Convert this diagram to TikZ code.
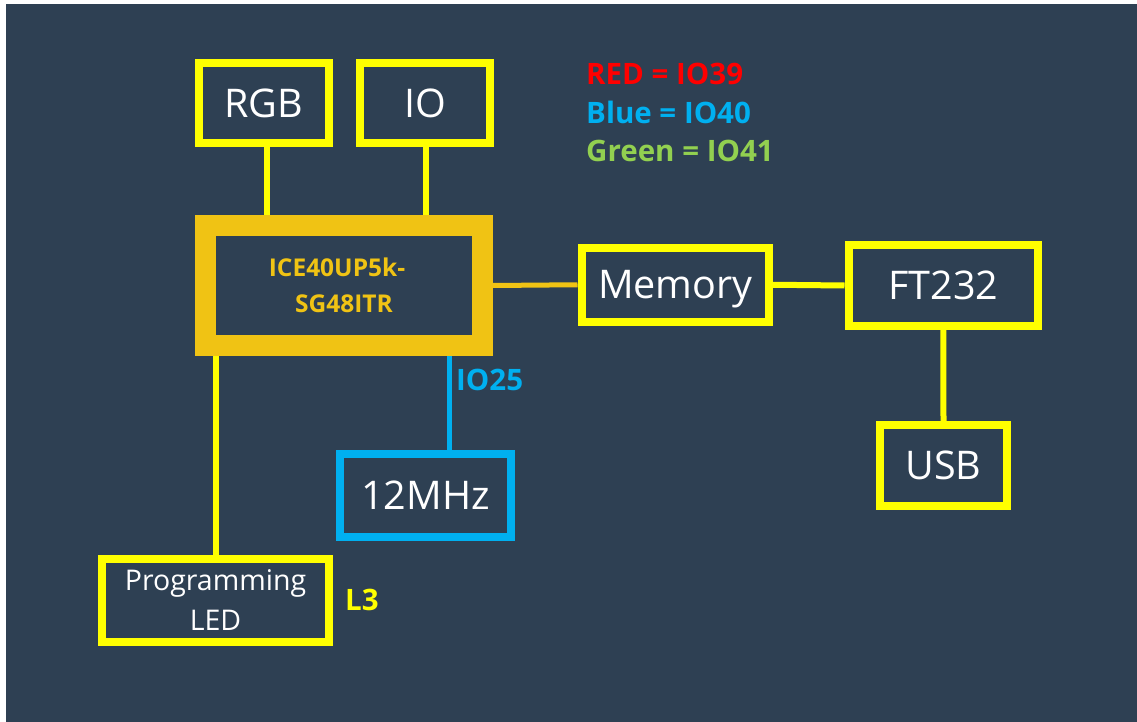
\documentclass[tikz,border=0pt]{standalone}
\usepackage{fontspec}
\setmainfont{Open Sans}
\definecolor{bg}{RGB}{46,64,83}
\definecolor{ylw}{RGB}{255,255,0}
\definecolor{chipgold}{RGB}{240,195,20}
\definecolor{cblue}{RGB}{0,176,240}
\definecolor{cred}{RGB}{255,0,0}
\definecolor{cgreen}{RGB}{146,208,80}
\tikzset{
  blk/.style={draw=ylw, line width=8pt, fill=bg, inner sep=0pt, text=white,
    font=\fontsize{39.5}{44}\selectfont, text height=28.2pt, text depth=0pt},
  wire/.style={draw=ylw, line width=6pt},
  bold label/.style={font=\fontsize{29.5}{32}\selectfont\bfseries, inner sep=0pt, anchor=west,
    text height=21pt, text depth=0pt}
}
\begin{document}
\begin{tikzpicture}[x=1pt,y=-1pt]
\useasboundingbox (0,0) rectangle (1137,722);
\fill[white] (0,0) rectangle (1137,722);
\fill[bg] (6,4) rectangle (1137,722);

% nodes
\node[blk, minimum width=130pt, minimum height=80pt] (rgb) at (263.5,103.5) {RGB};
\node[blk, minimum width=130pt, minimum height=80pt] (io) at (425,103.5) {IO};
\node[blk, draw=chipgold, line width=21pt, minimum width=277pt, minimum height=120pt,
      text=chipgold, font=\fontsize{24.5}{36}\selectfont\bfseries,
      text height=53.5pt, text depth=0pt] (chip) at (344,285.5)
      {\begin{tabular}[b]{@{}c@{}}\hspace*{-14pt}ICE40UP5k-\\SG48ITR\end{tabular}};
\node[blk, minimum width=187.5pt, minimum height=74.5pt] (mem) at (675.25,284.75) {Memory};
\node[blk, minimum width=189.5pt, minimum height=81pt] (ft) at (943.25,285.5) {FT232};
\node[blk, minimum width=127pt, minimum height=81pt] (usb) at (943.5,465.5) {USB};
\node[blk, draw=cblue, minimum width=171pt, minimum height=83pt] (osc) at (425.5,495.5) {12MHz};
\node[blk, minimum width=227pt, minimum height=82.5pt,
      font=\fontsize{28.5}{40}\selectfont, text height=59.5pt, text depth=0pt] (prog) at (215.5,600.25)
      {\begin{tabular}[b]{@{}c@{}}Programming\\LED\end{tabular}};

% connectors
\draw[wire] ([xshift=3.5pt]rgb.south) -- ([xshift=3.5pt]rgb.south |- chip.north);
\draw[wire] ([xshift=1pt]io.south) -- ([xshift=1pt]io.south |- chip.north);
\draw[wire, draw=chipgold, line width=5pt] (chip.east) -- (mem.west);
\draw[wire] (mem.east) -- (ft.west);
\draw[wire] (ft.south) -- (usb.north);
\draw[wire, draw=cblue, line width=5pt] ([xshift=24pt]osc.north) coordinate (oscin) -- (oscin |- chip.south);
\draw[wire] (prog.north) -- (prog.north |- chip.south);

% labels
\node[bold label, text=cblue] (io25) at (456,379.5) {IO25};
\node[bold label, text=ylw] (l3) at (345,600) {L3};
\node[bold label, text=cred] (lred) at (586,74.5) {RED = IO39};
\node[bold label, text=cblue] (lblue) at (586,113) {Blue = IO40};
\node[bold label, text=cgreen] (lgreen) at (586,151.5) {Green = IO41};
\end{tikzpicture}
\end{document}
